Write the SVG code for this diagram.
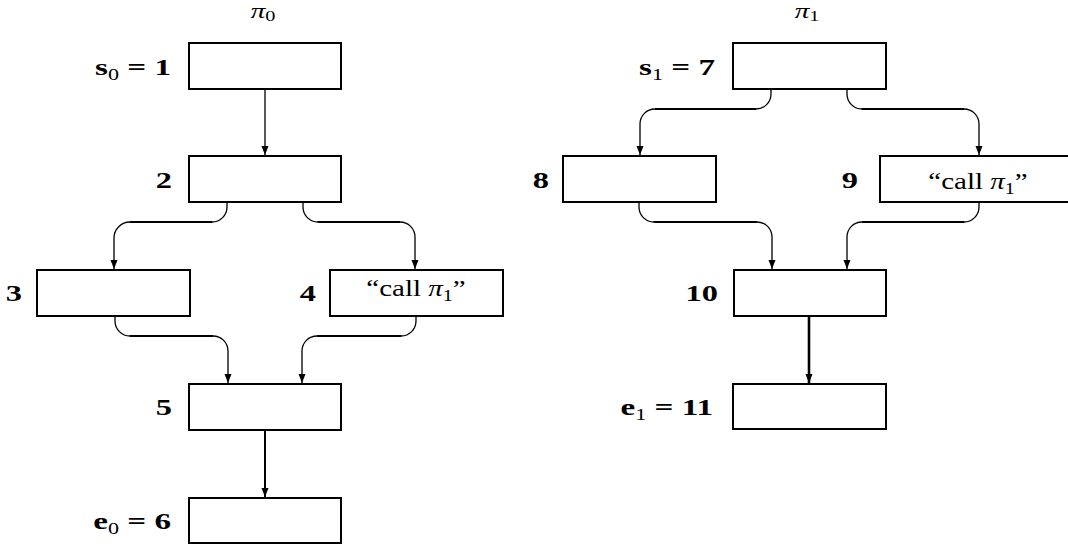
<svg xmlns="http://www.w3.org/2000/svg" width="1068" height="548" viewBox="0 0 1068 548">
  <style>
    .box { fill: #fff; stroke: #000; stroke-width: 2; }
    .lbl { font-family: "Liberation Serif", serif; font-size: 24px; font-weight: bold; fill: #000; }
    .txt { font-family: "Liberation Serif", serif; font-size: 23px; fill: #000; }
    .ttl { font-family: "Liberation Serif", serif; font-size: 20px; fill: #000; }
    .sub { font-size: 16px; font-weight: normal; }
    .ttl .sub { font-size: 14px; }
    .mi { font-style: italic; font-weight: normal; }
    .edge { fill: none; stroke: #000; stroke-width: 1.3; }
    .run { fill: none; stroke: #000; stroke-width: 2.2; }
  </style>
  <defs>
    <marker id="arrow" markerUnits="userSpaceOnUse" markerWidth="10" markerHeight="8" refX="9" refY="3.5" orient="auto">
      <path d="M0,0 L9,3.5 L0,7 z" fill="#000"/>
    </marker>
  </defs>

  <rect width="1068" height="548" fill="#fff"/>

  <!-- procedure titles -->
  <text class="ttl" transform="translate(263,18) scale(1.45,1)" text-anchor="middle"><tspan class="mi">π</tspan><tspan class="sub" dy="3">0</tspan></text>
  <text class="ttl" transform="translate(807,18) scale(1.45,1)" text-anchor="middle"><tspan class="mi">π</tspan><tspan class="sub" dy="3">1</tspan></text>

  <!-- connectors -->
  <g id="connectors">
    <path class="edge" d="M265,90 V155" marker-end="url(#arrow)"/>
    <path class="edge" d="M227,202 V207 A15,15 0 0 1 212,222 H130 A16,16 0 0 0 114,238 V269" marker-end="url(#arrow)"/>
    <path class="run" d="M212,222 H130"/>
    <path class="edge" d="M303,202 V207 A15,15 0 0 0 318,222 H400 A15,15 0 0 1 415,237 V269" marker-end="url(#arrow)"/>
    <path class="run" d="M318,222 H400"/>
    <path class="edge" d="M115,316 V321 A15,15 0 0 0 130,336 H213 A15,15 0 0 1 228,351 V383" marker-end="url(#arrow)"/>
    <path class="run" d="M130,336 H213"/>
    <path class="edge" d="M416,316 V321 A15,15 0 0 1 401,336 H317 A15,15 0 0 0 302,351 V383" marker-end="url(#arrow)"/>
    <path class="run" d="M401,336 H317"/>
    <path class="edge" style="stroke-width:2" d="M265,431 V497" marker-end="url(#arrow)"/>

    <path class="edge" d="M771,90 V94 A15,15 0 0 1 756,109 H655 A15,15 0 0 0 640,124 V155" marker-end="url(#arrow)"/>
    <path class="run" d="M756,109 H655"/>
    <path class="edge" d="M847,90 V94 A15,15 0 0 0 862,109 H964 A15,15 0 0 1 979,124 V155" marker-end="url(#arrow)"/>
    <path class="run" d="M862,109 H964"/>
    <path class="edge" d="M639,203 V207 A15,15 0 0 0 654,222 H757 A15,15 0 0 1 772,237 V269" marker-end="url(#arrow)"/>
    <path class="run" d="M654,222 H757"/>
    <path class="edge" d="M979,203 V207 A15,15 0 0 1 964,222 H862 A15,15 0 0 0 847,237 V269" marker-end="url(#arrow)"/>
    <path class="run" d="M964,222 H862"/>
    <path class="edge" style="stroke-width:2.6" d="M809,317 V383" marker-end="url(#arrow)"/>
  </g>

  <!-- procedure pi0 -->
  <g id="n1">
    <rect class="box" x="189" y="43" width="152" height="46"/>
    <text class="lbl" transform="translate(171,75) scale(1.38,1)" text-anchor="end">s<tspan class="sub" dy="5">0</tspan><tspan dy="-5" dx="6">=</tspan><tspan dx="6">1</tspan></text>
  </g>
  <g id="n2">
    <rect class="box" x="189" y="156" width="152" height="46"/>
    <text class="lbl" transform="translate(172,188) scale(1.35,1)" text-anchor="end">2</text>
  </g>
  <g id="n3">
    <rect class="box" x="37" y="270" width="153" height="46"/>
    <text class="lbl" transform="translate(22,301) scale(1.35,1)" text-anchor="end">3</text>
  </g>
  <g id="n4">
    <rect class="box" x="330" y="270" width="173" height="46"/>
    <text class="lbl" transform="translate(316,301) scale(1.35,1)" text-anchor="end">4</text>
    <text class="txt" transform="translate(416,296) scale(1.26,1)" text-anchor="middle">“call <tspan class="mi">π</tspan><tspan class="sub" dy="5">1</tspan><tspan dy="-5">”</tspan></text>
  </g>
  <g id="n5">
    <rect class="box" x="189" y="384" width="152" height="46"/>
    <text class="lbl" transform="translate(172,415) scale(1.35,1)" text-anchor="end">5</text>
  </g>
  <g id="n6">
    <rect class="box" x="189" y="498" width="152" height="45"/>
    <text class="lbl" transform="translate(171,529) scale(1.38,1)" text-anchor="end">e<tspan class="sub" dy="5">0</tspan><tspan dy="-5" dx="6">=</tspan><tspan dx="6">6</tspan></text>
  </g>

  <!-- procedure pi1 -->
  <g id="n7">
    <rect class="box" x="733" y="43" width="153" height="46"/>
    <text class="lbl" transform="translate(715,75) scale(1.38,1)" text-anchor="end">s<tspan class="sub" dy="5">1</tspan><tspan dy="-5" dx="6">=</tspan><tspan dx="6">7</tspan></text>
  </g>
  <g id="n8">
    <rect class="box" x="563" y="156" width="153" height="46"/>
    <text class="lbl" transform="translate(549,188) scale(1.35,1)" text-anchor="end">8</text>
  </g>
  <g id="n9">
    <rect class="box" x="880" y="156" width="200" height="46"/>
    <text class="lbl" transform="translate(858,188) scale(1.35,1)" text-anchor="end">9</text>
    <text class="txt" transform="translate(978,189) scale(1.26,1)" text-anchor="middle">“call <tspan class="mi">π</tspan><tspan class="sub" dy="5">1</tspan><tspan dy="-5">”</tspan></text>
  </g>
  <g id="n10">
    <rect class="box" x="734" y="270" width="152" height="46"/>
    <text class="lbl" transform="translate(718,301) scale(1.35,1)" text-anchor="end">10</text>
  </g>
  <g id="n11">
    <rect class="box" x="733" y="384" width="153" height="45"/>
    <text class="lbl" transform="translate(713,415) scale(1.38,1)" text-anchor="end">e<tspan class="sub" dy="5">1</tspan><tspan dy="-5" dx="6">=</tspan><tspan dx="6">11</tspan></text>
  </g>
</svg>
